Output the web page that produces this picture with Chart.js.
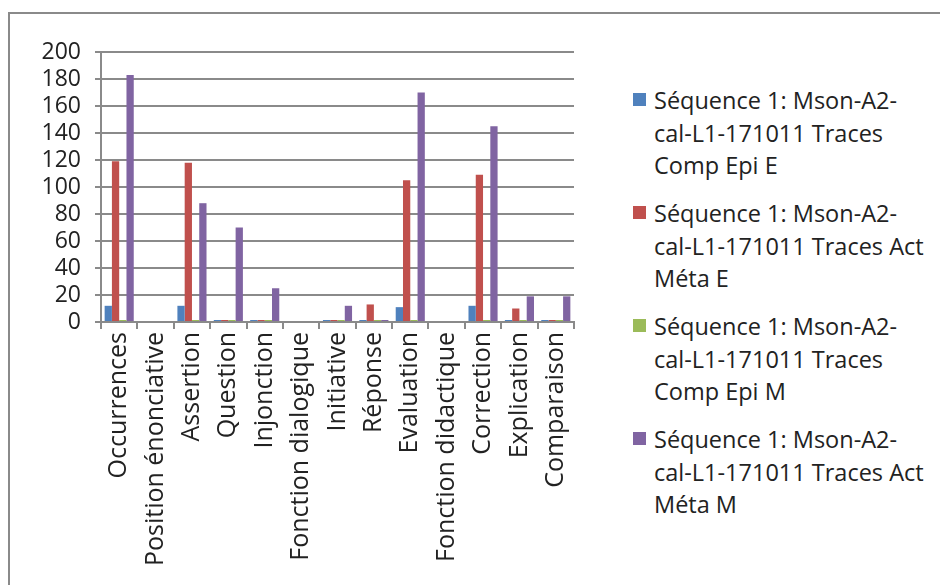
<!DOCTYPE html>
<html>
<head>
<meta charset="utf-8">
<script src="https://cdn.jsdelivr.net/npm/chart.js@4.4.1/dist/chart.umd.min.js"></script>
<style>
    html, body { margin: 0; padding: 0; background: #fff; }
    body { width: 940px; height: 585px; position: relative; overflow: hidden; font-family: 'Open Sans', sans-serif; }
    .frame { position: absolute; left: 8px; top: 12px; width: 1000px; height: 700px; border: 2px solid #8a8a8a; }
    #chartBox { position: absolute; left: 0; top: 0; width: 600px; height: 585px; }
    #legend { position: absolute; left: 633px; top: 84px; width: 305px; }
    .item { position: relative; padding-left: 21px; margin-bottom: 15.5px; font-size: 23.5px; line-height: 32.5px; color: #222; white-space: nowrap; }
    .item .box { position: absolute; left: 0; top: 9px; width: 13px; height: 13px; }
</style>
</head>
<body>
<div class="frame"></div>
<div id="chartBox"><canvas id="barChart"></canvas></div>
<div id="legend"></div>

<script>
// ==========================================
// Séquence 1 — traces par catégorie
// ==========================================

const categories = ['Occurrences', 'Position énonciative', 'Assertion', 'Question', 'Injonction',
    'Fonction dialogique', 'Initiative', 'Réponse', 'Evaluation', 'Fonction didactique',
    'Correction', 'Explication', 'Comparaison'];

const seriesNames = [
    ['Séquence 1: Mson-A2-', 'cal-L1-171011 Traces', 'Comp Epi E'],
    ['Séquence 1: Mson-A2-', 'cal-L1-171011 Traces Act', 'Méta E'],
    ['Séquence 1: Mson-A2-', 'cal-L1-171011 Traces', 'Comp Epi M'],
    ['Séquence 1: Mson-A2-', 'cal-L1-171011 Traces Act', 'Méta M']
];
const seriesColors = ['#4f81bd', '#c0504d', '#9bbb59', '#8064a2'];

// empty cells are null, real zeros stay 0
const compEpiE = [12, null, 12, 0, 0, null, 0, 0, 11, null, 12, 0, 0];
const actMetaE = [119, null, 118, 0, 0, null, 0, 13, 105, null, 109, 10, 0];
const compEpiM = [0, null, 0, 0, 0, null, 0, 0, 0, null, 0, 0, 0];
const actMetaM = [183, null, 88, 70, 25, null, 12, 0, 170, null, 145, 19, 19];

const yTicks = [0, 20, 40, 60, 80, 100, 120, 140, 160, 180, 200];

const FONT = "'Open Sans', sans-serif";

document.addEventListener('DOMContentLoaded', () => {
    initChart();
    initLegend();
});

function initChart() {
    const ctx = document.getElementById('barChart');
    const series = [compEpiE, actMetaE, compEpiM, actMetaM];

    new Chart(ctx, {
        type: 'bar',
        data: {
            labels: categories,
            datasets: series.map((data, i) => ({
                label: seriesNames[i].join(' '),
                data: data,
                backgroundColor: seriesColors[i],
                borderWidth: 0,
                minBarLength: 2,
                barPercentage: 1.0,
                categoryPercentage: 0.8
            }))
        },
        options: {
            responsive: true,
            maintainAspectRatio: false,
            animation: false,
            layout: { padding: { left: 20, top: 52, right: 26, bottom: 0 } },
            plugins: {
                legend: { display: false },
                tooltip: { enabled: false }
            },
            scales: {
                x: {
                    grid: { display: true, drawOnChartArea: false, offset: true, color: '#8a8a8a', lineWidth: 2, tickLength: 7 },
                    border: { color: '#8a8a8a', width: 2 },
                    ticks: {
                        autoSkip: false,
                        maxRotation: 90,
                        minRotation: 90,
                        color: '#222',
                        padding: 3,
                        font: { family: FONT, size: 25 }
                    },
                    afterFit: (scale) => { scale.height = 263; }
                },
                y: {
                    min: 0,
                    max: 200,
                    afterBuildTicks: (scale) => { scale.ticks = yTicks.map(v => ({ value: v })); },
                    grid: { color: '#8a8a8a', lineWidth: 2, tickLength: 6 },
                    border: { color: '#8a8a8a', width: 2 },
                    ticks: {
                        autoSkip: false,
                        color: '#222',
                        padding: 14,
                        font: { family: FONT, size: 23 }
                    },
                    afterFit: (scale) => { scale.width = 81; }
                }
            }
        }
    });
}

function initLegend() {
    const box = document.getElementById('legend');
    seriesNames.forEach((lines, i) => {
        const item = document.createElement('div');
        item.className = 'item';
        const sw = document.createElement('span');
        sw.className = 'box';
        sw.style.background = seriesColors[i];
        item.appendChild(sw);
        lines.forEach((t, j) => {
            if (j) item.appendChild(document.createElement('br'));
            item.appendChild(document.createTextNode(t));
        });
        box.appendChild(item);
    });
}
</script>
</body>
</html>
